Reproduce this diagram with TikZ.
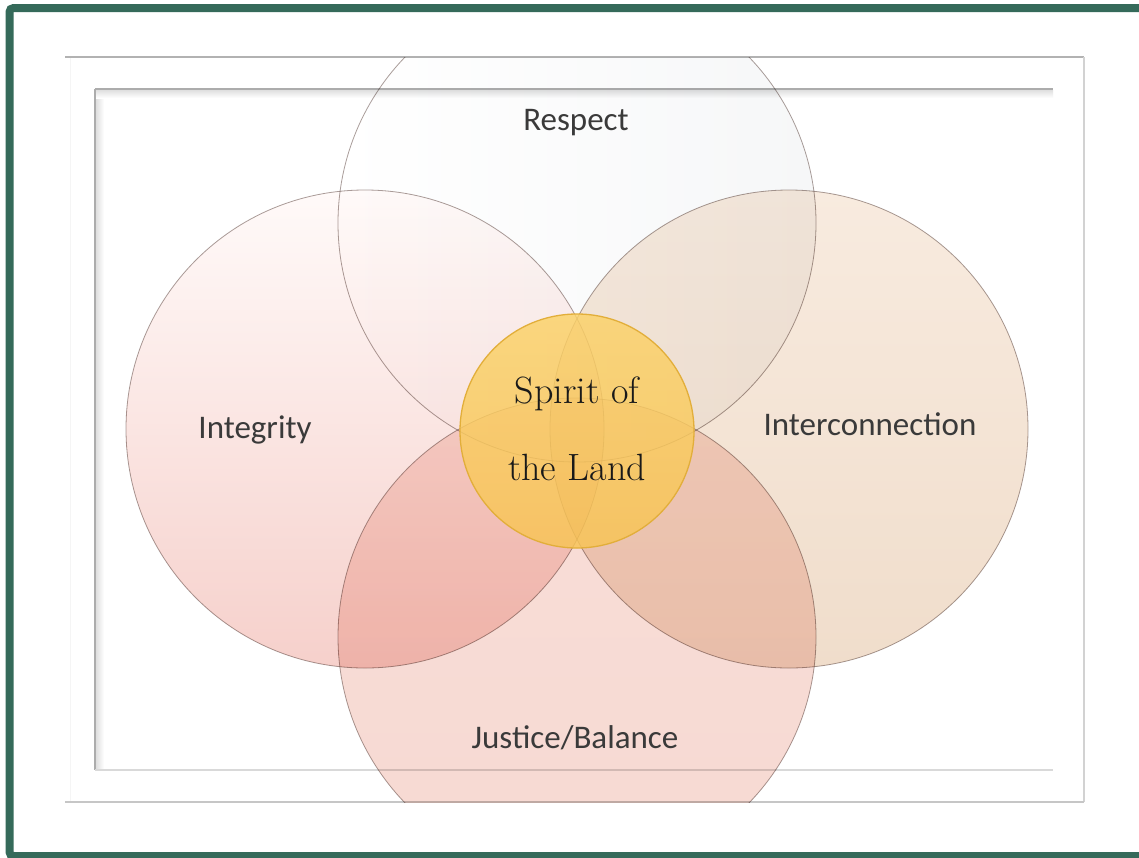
\documentclass[tikz,border=0pt]{standalone}
\usepackage{fontspec}
\setsansfont{Carlito}
\definecolor{frgreen}{HTML}{356A5A}
\definecolor{lbltext}{HTML}{3A3A3A}
\definecolor{ringline}{HTML}{AA9E9B}
\definecolor{goldfill}{HTML}{F8C456}
\definecolor{goldtop}{HTML}{FBD26A}
\definecolor{goldedge}{HTML}{E2AE3A}
\definecolor{intA}{HTML}{FFFAF9}
\definecolor{intB}{HTML}{F6D0CB}
\definecolor{conA}{HTML}{F8EBDF}
\definecolor{conB}{HTML}{F0DDCB}
\definecolor{resB}{HTML}{F6F7F8}
\definecolor{jusA}{HTML}{F8DED8}
\definecolor{jusB}{HTML}{F7D9D2}
\tikzset{
  lbl/.style={font=\sffamily\fontsize{33}{40}\selectfont, text=lbltext, anchor=base, inner sep=0},
  spirittext/.style={font=\fontsize{38}{44}\selectfont, text=black!90, anchor=base, inner sep=0},
  ring/.style={draw=ringline, line width=0.8, blend mode=multiply},
}
\begin{document}
\begin{tikzpicture}[x=1pt,y=-1pt]
\useasboundingbox (0,0) rectangle (1139,857);
\fill[white] (0,0) rectangle (1139,857);
% frames
\draw[gray!8, line width=1] (70,57) -- (70,802);
\draw[gray!60, line width=1.4] (65,57) -- (1084,57);
\draw[gray!35, line width=1.2] (1084,57) -- (1084,802);
\draw[gray!45, line width=1.4] (65,802) -- (1084,802);
\shade[left color=gray!25, right color=white] (96,90) rectangle (104,770);
\shade[top color=gray!25, bottom color=white] (96,90) rectangle (1053,98);
\draw[gray!65, line width=2] (95,89) -- (1053,89);
\draw[gray!65, line width=2.4] (95,89) -- (95,770);
\draw[gray!30, line width=1.6] (95,770) -- (1053,770);
% circles
\begin{scope}
\clip (65,57) rectangle (1084,802);
\shade[ring, shading angle=35, top color=intA, bottom color=intB] (365,429) circle[radius=239pt];
\shade[ring, top color=conA, bottom color=conB] (789,429) circle[radius=239pt];
\shade[ring, left color=white, right color=resB] (577,223) circle[radius=239pt];
\shade[ring, top color=jusA, bottom color=jusB] (577,637) circle[radius=239pt];
\end{scope}
% centre
\shade[top color=goldtop, bottom color=goldfill, fill opacity=0.84] (577,431) circle[radius=117pt];
\draw[goldedge, line width=1.3] (577,431) circle[radius=117pt];
% labels
\node[lbl] (respect) at (576,130) {Respect};
\node[lbl] (integrity) at (255,438) {Integrity};
\node[lbl] (intercon) at (870,435) {Interconnection};
\node[lbl] (justice) at (575,748) {Justice/Balance};
\node[spirittext] (spirit1) at (577,403) {Spirit of};
\node[spirittext] (spirit2) at (577,480) {the Land};
% green border, open on the right
\draw[frgreen, line width=8, rounded corners=4] (1139,8) -- (9.5,8) -- (9.5,856) -- (1139,856);
\end{tikzpicture}
\end{document}
